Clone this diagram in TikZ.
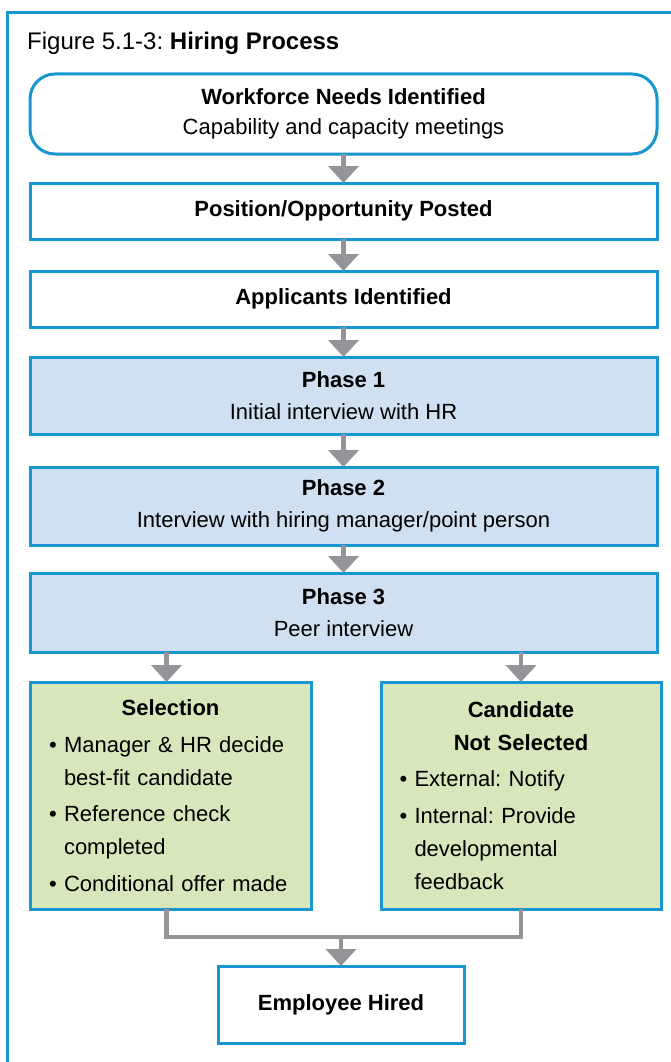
\documentclass[tikz,border=0pt]{standalone}
\usepackage{fontspec}
\setmainfont{Liberation Sans}
\usetikzlibrary{positioning, arrows.meta, calc}
\definecolor{Frame}{RGB}{24, 150, 208}
\definecolor{PhaseBg}{RGB}{207, 224, 242}
\definecolor{GreenBg}{RGB}{215, 230, 187}
\definecolor{ArrowGray}{RGB}{147, 149, 152}
\newenvironment{bullets}{\begin{list}{\textbullet}{\setlength{\leftmargin}{15pt}\setlength{\labelwidth}{15pt}\setlength{\labelsep}{0pt}\setlength{\itemsep}{3.5pt}\setlength{\parsep}{0pt}\setlength{\topsep}{0pt}\setlength{\partopsep}{0pt}\renewcommand{\makelabel}[1]{##1\hfil}}}{\end{list}}
\frenchspacing

\begin{document}
\begin{tikzpicture}[x=1pt, y=-1pt,
        box/.style={draw=Frame, line width=3pt, inner sep=0pt, outer sep=0pt, minimum width=627pt, align=center, font=\fontsize{22}{32}\selectfont},
        phase/.style={box, fill=PhaseBg},
        outcome/.style={box, fill=GreenBg, minimum width=281pt, minimum height=227pt, text width=243pt, align=left, font=\fontsize{22}{33}\selectfont},
        arr/.style={ArrowGray, line width=4.5pt, -{Triangle[width=30pt, length=17pt]}},
        link/.style={ArrowGray, line width=4.5pt}]
        \useasboundingbox (0, 0) rectangle (671, 1062);
        
        % Frame
        \draw[Frame, line width=3.5pt] (7.5, 1070) |- (680, 12.5);
        
        % Title
        \node[anchor=base west, inner sep=0pt, font=\fontsize{24}{28}\selectfont] (title) at (27, 50) {Figure 5.1-3: \textbf{Hiring Process}};
        
        % Workforce needs
        \node[box, minimum height=80pt, rounded corners=25pt, fill=white, font=\fontsize{22}{30}\selectfont] (needs) at (343.5, 114) {\textbf{Workforce Needs Identified}\\Capability and capacity meetings};
        
        % Posted
        \node[box, minimum height=56pt] (posted) at (343.5, 211) {\textbf{Position/Opportunity Posted}};
        
        % Applicants
        \node[box, minimum height=56pt] (applicants) at (343.5, 299) {\textbf{Applicants Identified}};
        
        % Phases
        \node[phase, minimum height=77pt] (phaseA) at (343.5, 395.5) {\textbf{Phase 1}\\Initial interview with HR};
        \node[phase, minimum height=78pt] (phaseB) at (343.5, 506) {\textbf{Phase 2}\\Interview with hiring manager/point person};
        \node[phase, minimum height=79pt] (phaseC) at (343.5, 612.5) {\textbf{Phase 3}\\Peer interview};
        
        % Selection
        \node[outcome] (selection) at (170.5, 795.5) {\setlength{\parskip}{3.5pt}\centering\textbf{Selection}\par\raggedright
            \begin{bullets}
            \item Manager \& HR decide\newline best-fit candidate
            \item Reference check\newline completed
            \item Conditional offer made
            \end{bullets}};
        
        % Not selected
        \node[outcome, minimum width=280pt] (notselected) at (521, 795.5) {\centering\textbf{Candidate}\par\textbf{Not Selected}\par\setlength{\parskip}{3.5pt}\raggedright
            \begin{bullets}
            \item External: Notify
            \item Internal: Provide\newline developmental\newline feedback
            \end{bullets}};
        
        % Hired
        \node[box, minimum width=246pt, minimum height=77pt] (hired) at (341, 1004.5) {\textbf{Employee Hired}};
        
        % Arrows down
        \draw[arr] (needs) -- (posted);
        \draw[arr] (posted) -- (applicants);
        \draw[arr] (applicants) -- (phaseA);
        \draw[arr] (phaseA) -- (phaseB);
        \draw[arr] (phaseB) -- (phaseC);
        \draw[arr] ([xshift=-4pt]phaseC.south -| selection.north) -- ([xshift=-4pt]selection.north);
        \draw[arr] (phaseC.south -| notselected) -- (notselected);
        
        % Merge
        \coordinate (merge) at (341, 937);
        \draw[link] ([xshift=-4pt]selection.south) |- (merge) -| (notselected.south);
        \draw[arr] (merge) -- (hired);
    \end{tikzpicture}
\end{document}
